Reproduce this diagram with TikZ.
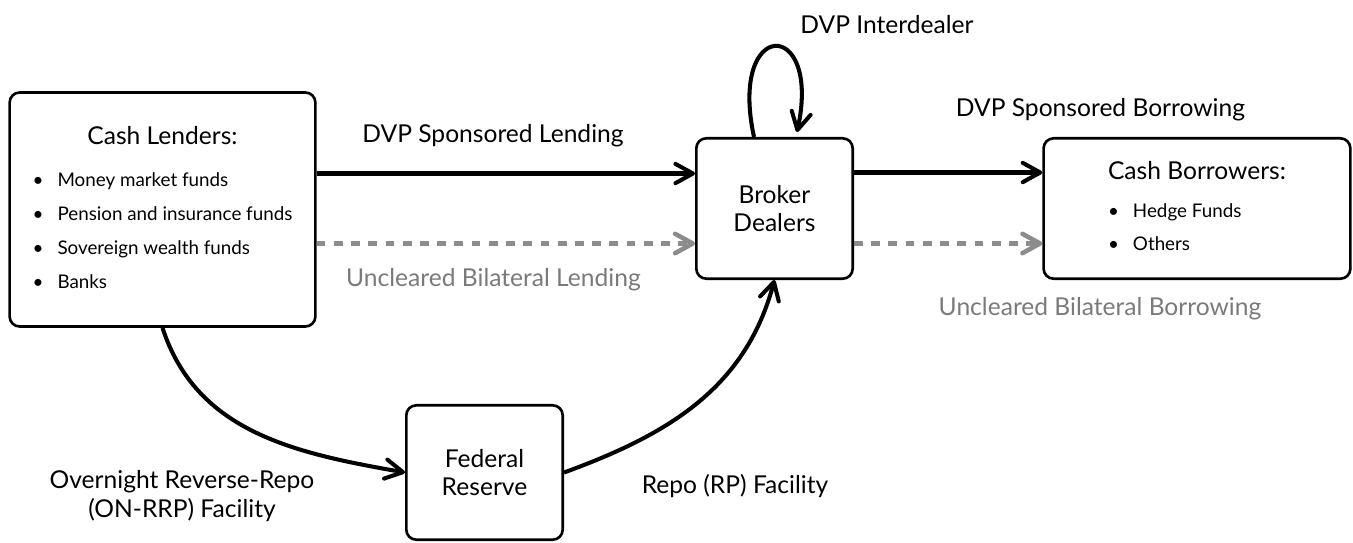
\documentclass[tikz,border=0pt]{standalone}
\usepackage{fontspec}
\setmainfont{Lato}
\usetikzlibrary{arrows.meta}
\definecolor{flowgray}{HTML}{8C8C8C}
\definecolor{labelgray}{HTML}{7A7A7A}
\def\lblfont{\fontsize{14}{16.2}\selectfont}
\def\itemfont{\fontsize{10.7}{19.3}\selectfont}

\begin{document}
\begin{tikzpicture}[
      x=0.02cm, y=-0.02cm,
      box/.style={draw, line width=1.5pt, rounded corners=0.2cm, align=center, inner sep=0pt},
      flow/.style={line width=2.3pt, -{Straight Barb[length=10pt,width=11pt,round]}},
      otc/.style={flow, flowgray, line width=2.6pt, dash pattern=on 5pt off 4.8pt},
      lbl/.style={font=\lblfont, align=center, inner sep=0pt}
    ]
    \useasboundingbox (0,0) rectangle (1353,542);
    \node[box, minimum width=174pt, minimum height=133.2pt] (lenders) at (162.5,209.5) {%
      \itemfont\begin{tabular}{@{}l@{}}
        \multicolumn{1}{@{}c@{}}{\lblfont Cash Lenders:}\\[5pt]
        \textbullet\hspace{8pt}Money market funds\\
        \textbullet\hspace{8pt}Pension and insurance funds\\
        \textbullet\hspace{8pt}Sovereign wealth funds\\
        \textbullet\hspace{8pt}Banks
      \end{tabular}};
    \node[box, font=\lblfont, minimum width=89pt, minimum height=79.9pt] (dealers) at (774.5,208.5) {Broker\\Dealers};
    \node[box, minimum width=174.6pt, minimum height=79.9pt] (borrowers) at (1197,208.5) {%
      \itemfont\begin{tabular}{@{}l@{}}
        \multicolumn{1}{@{}c@{}}{\lblfont Cash Borrowers:}\\[2pt]
        \textbullet\hspace{8pt}Hedge Funds\\
        \textbullet\hspace{8pt}Others
      \end{tabular}};
    \node[box, font=\lblfont, minimum width=89pt, minimum height=76.5pt] (fed) at (484.5,472.5) {Federal\\Reserve};

    \draw[flow] ([yshift=0.72cm]lenders.east) -- ([yshift=0.72cm]lenders.east -| dealers.west);
    \draw[otc] ([yshift=-0.68cm]lenders.east) -- ([yshift=-0.68cm]lenders.east -| dealers.west);
    \draw[flow] ([yshift=0.72cm]dealers.east) -- ([yshift=0.72cm]dealers.east -| borrowers.west);
    \draw[otc] ([yshift=-0.7cm]dealers.east) -- ([yshift=-0.7cm]dealers.east -| borrowers.west);
    \draw[flow] ([xshift=-0.41cm]dealers.north) .. controls +(-26,-120) and +(25,-115) .. ([xshift=0.45cm,yshift=0.1cm]dealers.north);
    \draw[flow] (lenders.south) to[out=-72, in=170] (fed.west);
    \draw[flow] (fed.east) to[out=20, in=-105] (dealers.south);

    \node[lbl] (lendlbl) at (493,136) {DVP Sponsored Lending};
    \node[lbl, labelgray] (otclendlbl) at (493.5,280) {Uncleared Bilateral Lending};
    \node[lbl] (borrlbl) at (1100.5,110) {DVP Sponsored Borrowing};
    \node[lbl, labelgray] (otcborrlbl) at (1100,309) {Uncleared Bilateral Borrowing};
    \node[lbl] (interlbl) at (887,25) {DVP Interdealer};
    \node[lbl] (rrplbl) at (182,496) {Overnight Reverse-Repo\\(ON-RRP) Facility};
    \node[lbl] (rplbl) at (735,486) {Repo (RP) Facility};
  \end{tikzpicture}
\end{document}
